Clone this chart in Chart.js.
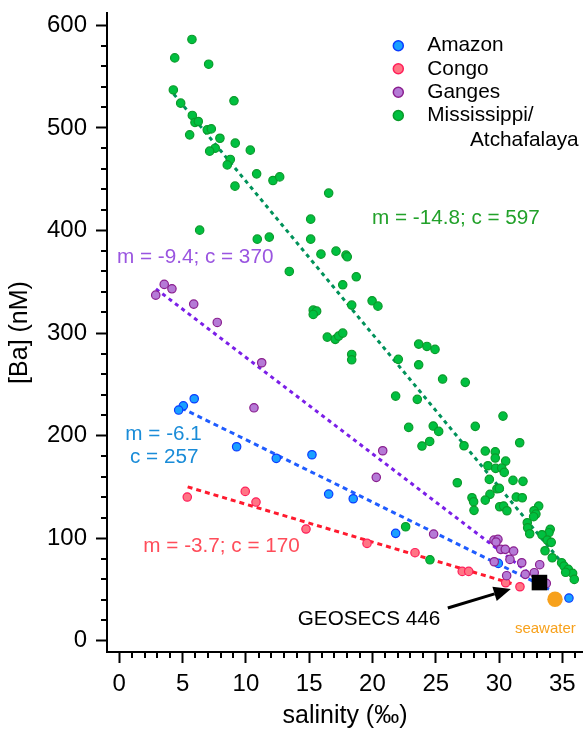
<!DOCTYPE html>
<html><head><meta charset="utf-8">
<script src="https://cdn.jsdelivr.net/npm/chart.js@4.4.0/dist/chart.umd.min.js"></script>
<style>html,body{margin:0;padding:0;background:#fff;}</style>
</head><body>
<canvas id="c" width="583" height="731"></canvas>
<script>
// ---------- data ----------
const amazonX = [5.92,5.06,4.69,9.27,12.40,15.22,16.54,18.48,21.83,29.94,35.52];
const amazonY = [235.9,229.0,224.9,189.1,177.8,181.3,143.0,138.4,104.7,75.4,41.6];

const congoX = [5.37,9.95,10.80,14.75,19.57,23.36,27.09,27.60,30.52,31.65];
const congoY = [140.1,145.6,135.2,108.9,94.9,85.8,67.6,67.6,56.5,52.6];

const gangesX = [3.55,4.16,2.88,5.88,7.74,11.25,10.64,20.81,20.30,24.83,29.60,29.91,29.76,30.13,30.49,31.15,30.86,31.79,33.21,29.62,30.60,32.07,32.78,33.73];
const gangesY = [347.4,343.1,336.9,328.2,310.3,271.0,227.1,185.2,159.3,104.0,98.1,98.8,96.2,89.1,89.1,87.4,79.3,76.0,74.1,77.0,63.4,64.7,66.3,55.9];

const missX = [5.74,4.38,7.06,4.27,9.06,4.85,5.77,5.98,6.24,6.95,7.27,5.56,7.95,9.16,10.35,7.58,7.14,8.77,8.53,10.85,
  12.14,12.67,9.14,16.54,15.12,6.35,10.90,11.85,15.12,15.93,17.12,17.91,18.01,13.43,18.72,17.65,15.32,15.59,15.32,18.36,
  19.97,20.43,16.43,17.06,17.33,17.65,18.36,18.36,23.65,24.30,24.94,22.04,23.65,25.54,27.33,21.83,23.54,30.31,22.86,24.80,
  25.23,28.12,24.52,23.91,27.23,31.63,28.91,29.70,29.70,30.52,29.12,29.73,30.21,30.41,29.23,26.70,31.10,31.89,29.83,30.02,
  29.28,28.91,27.86,27.99,28.02,31.36,31.83,30.05,30.36,30.62,33.13,32.76,32.91,32.73,32.23,32.26,32.42,34.04,33.94,33.39,
  33.81,34.12,33.63,34.20,22.62,24.54,34.94,35.13,35.47,35.81,35.94,35.26];
const missY = [586.2,568.2,562.1,537.0,526.4,524.1,512.1,505.3,506.2,498.1,499.0,493.2,489.9,485.1,478.3,480.2,477.3,469.2,463.9,455.2,
  448.7,452.2,443.2,436.4,411.0,400.3,391.5,393.5,391.5,376.9,379.8,375.9,374.3,360.0,354.8,347.0,322.3,321.3,318.1,327.2,
  331.4,326.2,296.0,293.8,297.0,299.9,279.1,273.9,289.2,286.9,284.0,274.3,269.0,255.1,251.9,238.5,235.3,219.0,208.0,209.3,
  204.1,209.0,194.3,189.8,190.1,193.0,184.9,184.2,178.1,175.1,170.6,168.0,168.3,164.1,157.3,154.0,156.3,155.4,148.1,148.5,
  142.7,137.1,139.4,135.5,127.1,140.1,139.4,130.6,131.3,126.7,131.3,126.7,123.5,120.9,115.0,110.1,104.3,108.6,105.3,103.3,
  98.1,95.9,87.7,80.9,111.1,78.9,76.0,72.8,69.6,65.7,59.8,66.7];

const seawaterX = [34.42];
const seawaterY = [40.4];
const geosecsX = [33.19];
const geosecsY = [56.7];

// fitted trend-line end points (as drawn)
const missLineX = [4.3, 35.9];
const missLineY = [533, 62];
const gangesLineX = [2.9, 33.0];
const gangesLineY = [343, 60];
const amazonLineX = [4.9, 34.0];
const amazonLineY = [227, 50];
const congoLineX = [5.4, 31.2];
const congoLineY = [150, 55];

const xTickValues = [0,5,10,15,20,25,30,35];
const yTickValues = [0,100,200,300,400,500,600];
const legendLabels = ['Amazon','Congo','Ganges',['Mississippi/','Atchafalaya']];

// ---------- styles ----------
const FONT = '"Liberation Sans", Arial, sans-serif';
const C = {
  amazonFill:'#1aa0ff', amazonEdge:'#0a3cff',
  congoFill:'#ff7585', congoEdge:'#ff1f5a',
  gangesFill:'#b57ad6', gangesEdge:'#8a1f8f',
  missFill:'#00c040', missEdge:'#0a9a2a',
  missLine:'#00925a', gangesLine:'#7b1fe8', amazonLine:'#1f5cff', congoLine:'#ff1a2e',
  missText:'#22a12a', gangesText:'#9a55e0', amazonText:'#1a8cd8', congoText:'#ff4d5a',
  orange:'#f7a11c'
};

function pts(xs, ys){ return xs.map((x,i)=>({x:x, y:ys[i]})); }

function scatterSet(label, xs, ys, fill, edge, order){
  return {type:'scatter', label, data:pts(xs,ys), backgroundColor:fill, borderColor:edge,
    pointRadius:4.2, pointBorderWidth:1.2, pointHoverRadius:4.2, order};
}
function lineSet(xs, ys, color, dash, order){
  return {type:'line', data:pts(xs,ys), borderColor:color, borderWidth:3, borderDash:dash,
    pointRadius:0, fill:false, showLine:true, order};
}

const annotations = [
  {text:'m = -14.8; c = 597', x:19.96, y:412, color:C.missText, align:'left', size:20.7},
  {text:'m = -9.4; c = 370', x:-0.18, y:374, color:C.gangesText, align:'left', size:20.7},
  {text:'m = -6.1', x:3.5, y:201, color:C.amazonText, align:'center', size:20.7},
  {text:'c = 257', x:3.55, y:179.3, color:C.amazonText, align:'center', size:20.7},
  {text:'m = -3.7; c = 170', x:1.9, y:92.3, color:C.congoText, align:'left', size:20.7},
  {text:'GEOSECS 446', x:14.1, y:21.1, color:'#000', align:'left', size:20.7},
  {text:'seawater', x:31.25, y:11.4, color:C.orange, align:'left', size:15}
];
const arrow = {x0:25.95, y0:31.9, x1:30.93, y1:50.4};

const extras = {
  id:'extras',
  afterDraw(chart){
    const ctx = chart.ctx, xs = chart.scales.x, ys = chart.scales.y;
    const area = chart.chartArea;
    ctx.save();
    // minor ticks
    ctx.strokeStyle = '#000'; ctx.lineWidth = 2;
    ctx.beginPath();
    for (let v = 0; v <= 36; v++) {
      if (v % 5 === 0) continue;
      const px = Math.round(xs.getPixelForValue(v));
      ctx.moveTo(px, area.bottom); ctx.lineTo(px, area.bottom + 6);
    }
    for (let v = 0; v <= 600; v += 20) {
      if (v % 100 === 0) continue;
      const py = Math.round(ys.getPixelForValue(v));
      ctx.moveTo(area.left, py); ctx.lineTo(area.left - 6, py);
    }
    ctx.stroke();
    // annotations
    ctx.textBaseline = 'middle';
    annotations.forEach(a => {
      ctx.font = a.size + 'px ' + FONT;
      ctx.fillStyle = a.color; ctx.textAlign = a.align;
      ctx.fillText(a.text, xs.getPixelForValue(a.x), ys.getPixelForValue(a.y));
    });
    // arrow
    const ax0 = xs.getPixelForValue(arrow.x0), ay0 = ys.getPixelForValue(arrow.y0);
    const ax1 = xs.getPixelForValue(arrow.x1), ay1 = ys.getPixelForValue(arrow.y1);
    const ang = Math.atan2(ay1 - ay0, ax1 - ax0);
    const hl = 17, hw = 7.5;
    const bx = ax1 - hl*Math.cos(ang), by = ay1 - hl*Math.sin(ang);
    ctx.strokeStyle = '#000'; ctx.lineWidth = 3;
    ctx.beginPath(); ctx.moveTo(ax0, ay0); ctx.lineTo(bx, by); ctx.stroke();
    ctx.fillStyle = '#000';
    ctx.beginPath();
    ctx.moveTo(ax1, ay1);
    ctx.lineTo(bx + hw*Math.sin(ang), by - hw*Math.cos(ang));
    ctx.lineTo(bx - hw*Math.sin(ang), by + hw*Math.cos(ang));
    ctx.closePath(); ctx.fill();
    // legend
    const legendColors = [[C.amazonFill,C.amazonEdge],[C.congoFill,C.congoEdge],[C.gangesFill,C.gangesEdge],[C.missFill,C.missEdge]];
    const ly = [45.7, 68.8, 92.3, 115.5];
    ctx.font = '20.8px ' + FONT; ctx.textAlign = 'left'; ctx.textBaseline = 'middle';
    legendLabels.forEach((lab, i) => {
      ctx.beginPath(); ctx.arc(398.3, ly[i], 5, 0, Math.PI*2);
      ctx.fillStyle = legendColors[i][0]; ctx.fill();
      ctx.lineWidth = 1.5; ctx.strokeStyle = legendColors[i][1]; ctx.stroke();
      ctx.fillStyle = '#000';
      if (Array.isArray(lab)) {
        ctx.fillText(lab[0], 427.3, ly[i]);
        ctx.fillText(lab[1], 470, ly[i] + 24.5);
      } else ctx.fillText(lab, 427.3, ly[i]);
    });
    ctx.restore();
  }
};

new Chart(document.getElementById('c'), {
  type:'scatter',
  data:{datasets:[
    {type:'scatter', label:'GEOSECS 446', data:pts(geosecsX,geosecsY), pointStyle:'rect', pointRadius:11, backgroundColor:'#000', borderColor:'#000', pointBorderWidth:0, order:0},
    {type:'scatter', label:'seawater', data:pts(seawaterX,seawaterY), pointRadius:7.7, backgroundColor:C.orange, borderColor:C.orange, pointBorderWidth:0, order:1},
    scatterSet('Ganges', gangesX, gangesY, C.gangesFill, C.gangesEdge, 3),
    scatterSet('Congo', congoX, congoY, C.congoFill, C.congoEdge, 4),
    scatterSet('Amazon', amazonX, amazonY, C.amazonFill, C.amazonEdge, 5),
    scatterSet('Mississippi/Atchafalaya', missX, missY, C.missFill, C.missEdge, 6),
    lineSet(gangesLineX, gangesLineY, C.gangesLine, [4,4], 7),
    lineSet(amazonLineX, amazonLineY, C.amazonLine, [5,4], 8),
    lineSet(congoLineX, congoLineY, C.congoLine, [5,4], 9),
    lineSet(missLineX, missLineY, C.missLine, [4,4], 10)
  ]},
  options:{
    responsive:false, animation:false, devicePixelRatio:1,
    layout:{autoPadding:false, padding:{top:13, right:0, left:0, bottom:0}},
    plugins:{legend:{display:false}, tooltip:{enabled:false}},
    scales:{
      x:{type:'linear', position:'bottom', min:-0.97, max:36.63,
        afterBuildTicks:s=>{ s.ticks = xTickValues.map(v=>({value:v})); },
        afterFit:s=>{ s.height = 79; s.paddingLeft = 0; s.paddingRight = 0; },
        grid:{drawOnChartArea:false, drawTicks:true, tickLength:11, tickWidth:2, tickColor:'#000'},
        border:{display:true, color:'#000', width:2},
        ticks:{color:'#000', font:{family:FONT, size:24}, padding:7, maxRotation:0, autoSkip:false},
        title:{display:true, text:'salinity (‰)', color:'#000', font:{family:FONT, size:25}, padding:{top:0, bottom:0}}
      },
      y:{type:'linear', position:'left', min:-11, max:612,
        afterBuildTicks:s=>{ s.ticks = yTickValues.map(v=>({value:v})); },
        afterFit:s=>{ s.width = 107; s.paddingTop = 0; s.paddingBottom = 0; },
        grid:{drawOnChartArea:false, drawTicks:true, tickLength:11, tickWidth:2, tickColor:'#000'},
        border:{display:true, color:'#000', width:2},
        ticks:{color:'#000', font:{family:FONT, size:24}, padding:9, autoSkip:false},
        title:{display:true, text:'[Ba] (nM)', color:'#000', font:{family:FONT, size:25}, padding:{top:5, bottom:0}}
      }
    }
  },
  plugins:[extras]
});
</script>
</body></html>
